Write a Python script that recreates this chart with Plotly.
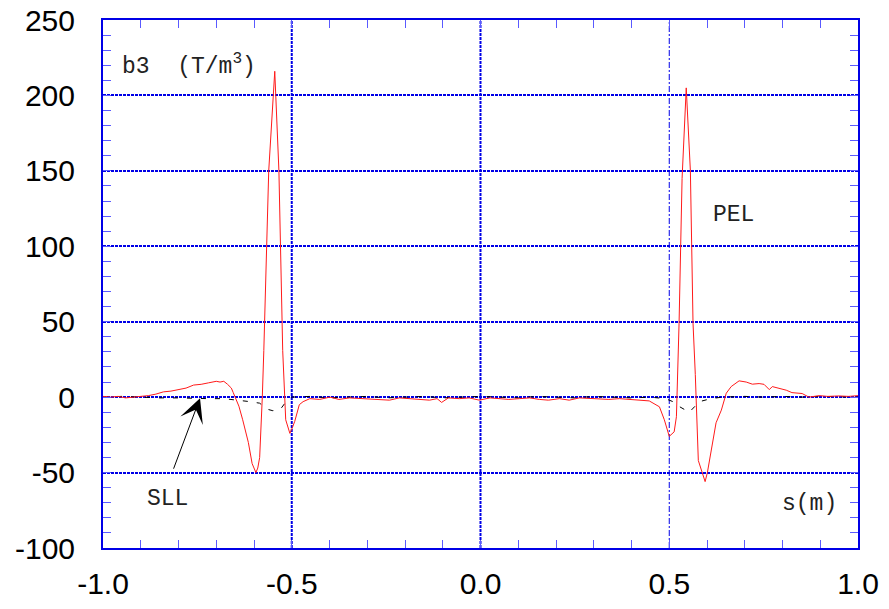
import plotly.graph_objects as go

# ---- data ----
s_red = [-1.0, -0.98, -0.96, -0.94, -0.92, -0.90, -0.88, -0.86, -0.84, -0.82, -0.80, -0.78,
         -0.76, -0.74, -0.72, -0.70, -0.69, -0.68, -0.67, -0.66, -0.655, -0.65, -0.64, -0.63,
         -0.62, -0.615, -0.605, -0.595, -0.59, -0.585, -0.578, -0.574, -0.561, -0.545, -0.534,
         -0.524, -0.516, -0.505, -0.498, -0.492, -0.48, -0.47, -0.452, -0.426, -0.399, -0.375,
         -0.347, -0.32, -0.294, -0.27, -0.241, -0.215, -0.188, -0.16, -0.135, -0.115, -0.103,
         -0.085, -0.056, -0.03, -0.003, 0.025, 0.050, 0.075, 0.103, 0.13, 0.156, 0.18, 0.209,
         0.235, 0.262, 0.29, 0.315, 0.34, 0.368, 0.395, 0.418, 0.447, 0.474, 0.487, 0.500,
         0.513, 0.519, 0.526, 0.534, 0.545, 0.556, 0.563, 0.569, 0.577, 0.595, 0.601, 0.624,
         0.638, 0.651, 0.664, 0.685, 0.704, 0.720, 0.738, 0.751, 0.765, 0.773, 0.790, 0.810,
         0.825, 0.852, 0.870, 0.897, 0.92, 0.950, 0.975, 1.0]
b3_red = [0.5, 0.0, 0.5, -0.5, 0.0, 0.5, 1.0, 2.0, 3.5, 4.0, 5.0, 6.0,
          8.0, 8.5, 9.5, 10.5, 10.0, 10.5, 8.5, 6.0, 3.0, 0.0, -6.0, -15.0,
          -24.0, -30.0, -44.0, -50.0, -47.0, -40.0, 0.0, 31.0, 150.0, 216.0, 150.0,
          31.0, -15.0, -24.0, -20.0, -16.0, -5.0, -3.0, -1.0, -1.5, 0.0, -1.5,
          -0.5, -1.0, -1.0, -1.5, -2.0, -0.5, -1.0, -1.5, -2.0, -1.0, -3.5,
          -0.5, -1.0, -0.5, -2.0, -0.5, -1.0, -1.5, -1.0, -0.5, -1.5, -2.0, -1.0,
          -2.0, -0.5, -1.0, -1.0, -1.5, -1.0, -1.5, -1.5, -2.5, -6.4, -15.0, -26.0,
          -23.0, -13.0, 49.0, 145.0, 205.0, 150.0, 49.0, 15.0, -42.0, -56.0, -50.0, -17.0,
          -8.6, 2.6, 7.0, 10.8, 10.0, 8.6, 9.0, 8.5, 5.0, 7.0, 6.0, 4.6,
          3.0, 2.4, 0.0, 1.0, 0.5, 0.8, 0.5, 1.0]

s_blk = [-1.0, -0.95, -0.9, -0.85, -0.8, -0.75, -0.72, -0.68, -0.64, -0.61, -0.585, -0.565,
         -0.55, -0.53, -0.515, -0.50, -0.45, -0.4, -0.35, -0.3, -0.25, -0.2, -0.15, -0.1,
         -0.05, 0.0, 0.05, 0.1, 0.15, 0.2, 0.25, 0.3, 0.35, 0.4, 0.45, 0.49, 0.51, 0.525,
         0.553, 0.57, 0.58, 0.61, 0.64, 0.7, 0.75, 0.8, 0.85, 0.9, 0.95, 1.0]
b3_blk = [0.0, 0.5, 0.0, -0.5, -0.5, -1.0, -1.0, -1.0, -2.0, -3.0, -4.0, -8.0,
          -9.0, -8.0, -3.0, 0.0, 0.5, -0.5, 0.0, 0.5, -0.5, 0.0, 0.5, -0.5,
          0.0, 0.5, 0.0, -0.5, 0.5, 0.0, -0.5, 0.5, 0.0, -0.5, 0.0, -1.0, -3.0, -6.0,
          -10.0, -6.0, -3.0, -1.0, 0.0, 0.5, 0.0, 0.5, 0.0, 0.5, 0.0, 0.0]

x_ticks = [-1.0, -0.5, 0.0, 0.5, 1.0]
x_ticklabels = ["-1.0", "-0.5", "0.0", "0.5", "1.0"]
y_ticks = [-100, -50, 0, 50, 100, 150, 200, 250]
y_ticklabels = ["-100", "-50", "0", "50", "100", "150", "200", "250"]

BLUE = "#0000e6"
TICKBLUE = "#5a5aff"
MONO = "Liberation Mono, Courier New, monospace"

fig = go.Figure()
fig.add_trace(go.Scatter(x=s_blk, y=b3_blk, mode="lines",
                         line=dict(color="black", width=1, dash="5px,9px"),
                         hoverinfo="skip", showlegend=False))
fig.add_trace(go.Scatter(x=s_red, y=b3_red, mode="lines",
                         line=dict(color="#ff1a1a", width=1),
                         hoverinfo="skip", showlegend=False))

# vertical grid lines
for xv, w, d in [(-0.5, 2, "3px,1px"), (0.0, 2, "3px,1px"), (0.5, 1, "6px,2px,2px,2px")]:
    fig.add_shape(type="line", xref="x", yref="paper", x0=xv, x1=xv, y0=0, y1=1,
                  line=dict(color=BLUE, width=w, dash=d), layer="below")

fig.update_xaxes(range=[-1.0, 1.0], tickvals=x_ticks, ticktext=x_ticklabels,
                 showgrid=False, zeroline=False, automargin=False,
                 showline=True, linecolor=BLUE, linewidth=2, mirror="allticks",
                 ticks="inside", ticklen=8, tickcolor=TICKBLUE, tickwidth=1,
                 minor=dict(dtick=0.1, ticks="inside", ticklen=8, tickcolor=TICKBLUE, tickwidth=1),
                 tickfont=dict(family="Liberation Sans, Arial", size=30, color="black"),
                 ticklabelstandoff=8)
fig.update_yaxes(range=[-100, 250], tickvals=y_ticks, ticktext=y_ticklabels,
                 showgrid=True, gridcolor=BLUE, gridwidth=2, griddash="3px,1px",
                 zeroline=False, automargin=False,
                 showline=True, linecolor=BLUE, linewidth=2, mirror="allticks",
                 ticks="inside", ticklen=8, tickcolor=TICKBLUE, tickwidth=1,
                 minor=dict(dtick=10, ticks="inside", ticklen=8, tickcolor=TICKBLUE, tickwidth=1),
                 tickfont=dict(family="Liberation Sans, Arial", size=30, color="black"),
                 ticklabelstandoff=20)

ann_font = dict(family=MONO, size=23, color="#222222")
fig.add_annotation(xref="paper", yref="paper", x=0.022, y=0.915, xanchor="left", yanchor="middle",
                   text="b3\u00a0\u00a0(T/m<sup>3</sup>)", showarrow=False, font=ann_font)
fig.add_annotation(xref="paper", yref="paper", x=0.805, y=0.631, xanchor="left", yanchor="middle",
                   text="PEL", showarrow=False, font=ann_font)
fig.add_annotation(xref="paper", yref="paper", x=0.055, y=0.093, xanchor="left", yanchor="middle",
                   text="SLL", showarrow=False, font=ann_font)
fig.add_annotation(xref="paper", yref="paper", x=0.897, y=0.083, xanchor="left", yanchor="middle",
                   text="s(m)", showarrow=False, font=ann_font)
# arrow pointing at the SLL curve
fig.add_annotation(x=-0.743, y=-0.7, xref="x", yref="y", text="", showarrow=True,
                   ax=-27, ay=72, arrowhead=3, arrowsize=4, arrowwidth=1, arrowcolor="black")

fig.update_layout(width=889, height=609, margin=dict(l=103, r=31, t=20, b=61),
                  paper_bgcolor="white", plot_bgcolor="white", showlegend=False)

fig.write_html("out.html")
